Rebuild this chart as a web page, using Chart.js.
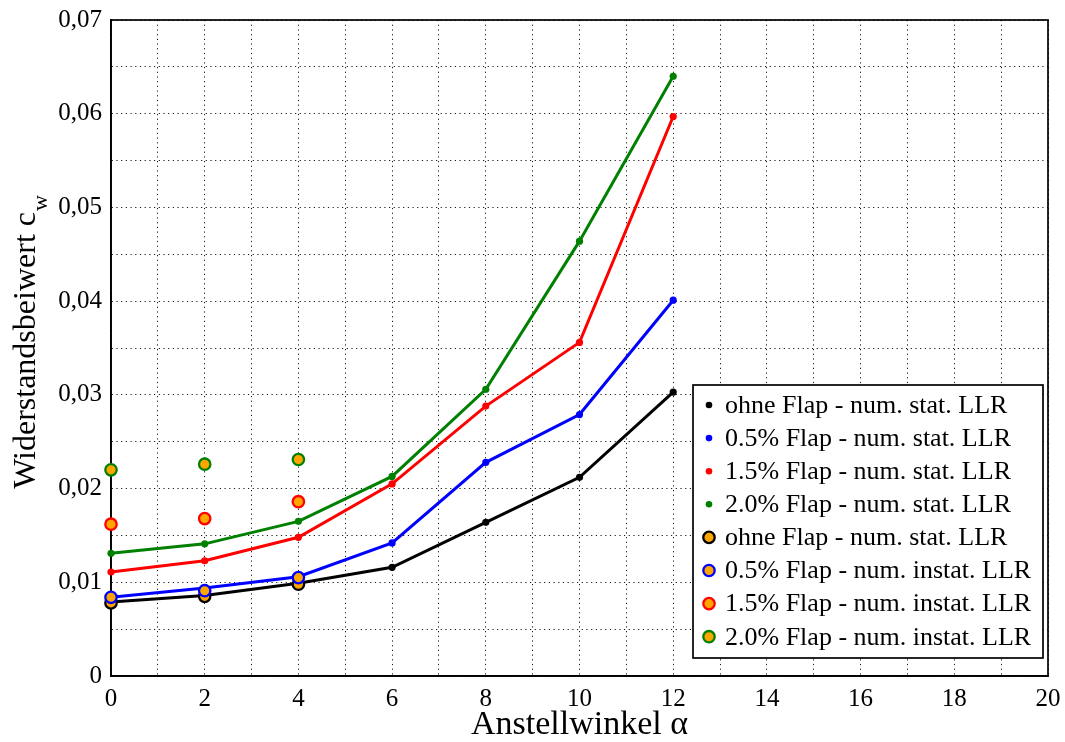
<!DOCTYPE html>
<html>
<head>
<meta charset="utf-8">
<script src="https://cdn.jsdelivr.net/npm/chart.js@4/dist/chart.umd.min.js"></script>
<style>
  html, body { margin: 0; padding: 0; background: #fff; }
  #wrap { width: 1065px; height: 742px; position: relative; }
</style>
</head>
<body>
<div id="wrap"><canvas id="c" width="1065" height="742"></canvas></div>
<script>
// ---- data ----
const alpha = [0, 2, 4, 6, 8, 10, 12];
const cwOhneStat = [0.0079, 0.0086, 0.0099, 0.0116, 0.0164, 0.0212, 0.0303];
const cw05Stat   = [0.0084, 0.0094, 0.0106, 0.0142, 0.0228, 0.0279, 0.0401];
const cw15Stat   = [0.0111, 0.0123, 0.0148, 0.0205, 0.0288, 0.0356, 0.0597];
const cw20Stat   = [0.0131, 0.0141, 0.0165, 0.0213, 0.0306, 0.0464, 0.0640];

const alphaInstat = [0, 2, 4];
const cwOhneInstat = [0.0078, 0.0085, 0.0098];
const cw05Instat   = [0.0084, 0.0091, 0.0105];
const cw15Instat   = [0.0162, 0.0168, 0.0186];
const cw20Instat   = [0.0220, 0.0226, 0.0231];

const seriesLabels = [
  'ohne Flap - num. stat. LLR',
  '0.5% Flap - num. stat. LLR',
  '1.5% Flap - num. stat. LLR',
  '2.0% Flap - num. stat. LLR',
  'ohne Flap - num. stat. LLR',
  '0.5% Flap - num. instat. LLR',
  '1.5% Flap - num. instat. LLR',
  '2.0% Flap - num. instat. LLR'
];
const yTickLabels = ['0', '0,01', '0,02', '0,03', '0,04', '0,05', '0,06', '0,07'];
const xTickLabels = ['0', '2', '4', '6', '8', '10', '12', '14', '16', '18', '20'];
const xTitle = 'Anstellwinkel \u03B1';
const yTitleMain = 'Widerstandsbeiwert c';
const yTitleSub = 'w';

// ---- styles ----
const colors = ['#000000', '#0000ff', '#ff0000', '#008000'];
const orange = '#ffa500';
const SERIF = '"Liberation Serif", "Times New Roman", serif';

function pts(xs, ys) { return xs.map((x, i) => ({ x: x, y: ys[i] })); }

const statSeries = [cwOhneStat, cw05Stat, cw15Stat, cw20Stat];
const instSeries = [cwOhneInstat, cw05Instat, cw15Instat, cw20Instat];

const datasets = [];
statSeries.forEach((s, i) => {
  datasets.push({
    label: seriesLabels[i],
    data: pts(alpha, s),
    borderColor: colors[i],
    backgroundColor: colors[i],
    borderWidth: 3,
    pointRadius: 3.6,
    pointBorderWidth: 0,
    pointBackgroundColor: colors[i],
    showLine: true,
    tension: 0,
    clip: false,
    order: 10 - i,
    _instat: false
  });
});
instSeries.forEach((s, i) => {
  datasets.push({
    label: seriesLabels[4 + i],
    data: pts(alphaInstat, s),
    borderColor: colors[i],
    backgroundColor: orange,
    showLine: false,
    pointRadius: 5.7,
    pointBorderWidth: 2.3,
    pointBackgroundColor: orange,
    pointBorderColor: colors[i],
    clip: false,
    order: 6 - i,
    _instat: true
  });
});

const frame = {
  id: 'frame',
  beforeDatasetsDraw(chart) {
    const { ctx, chartArea: a } = chart;
    ctx.save();
    ctx.strokeStyle = '#000';
    ctx.lineWidth = 1.7;
    ctx.strokeRect(a.left, a.top, a.right - a.left, a.bottom - a.top);
    ctx.restore();
  },
  afterDraw(chart) {
    const ctx = chart.ctx;
    // y-axis title with subscript
    ctx.save();
    ctx.fillStyle = '#000';
    const mainFont = '32px ' + SERIF;
    const subFont = '22px ' + SERIF;
    ctx.font = mainFont;
    const m = ctx.measureText(yTitleMain).width;
    ctx.font = subFont;
    const s = ctx.measureText(yTitleSub).width;
    const t = m + s + 1;
    ctx.translate(35, 342);
    ctx.rotate(-Math.PI / 2);
    ctx.textBaseline = 'alphabetic';
    ctx.textAlign = 'left';
    ctx.font = mainFont;
    ctx.fillText(yTitleMain, -t / 2, 0);
    ctx.font = subFont;
    ctx.fillText(yTitleSub, -t / 2 + m + 1, 12);
    ctx.restore();

    // legend box
    const bx = 693, by = 385, bw = 350, bh = 273;
    ctx.save();
    ctx.fillStyle = '#fff';
    ctx.fillRect(bx, by, bw, bh);
    ctx.strokeStyle = '#000';
    ctx.lineWidth = 1.7;
    ctx.strokeRect(bx, by, bw, bh);
    ctx.font = '26px ' + SERIF;
    ctx.textBaseline = 'middle';
    ctx.textAlign = 'left';
    chart.data.datasets.forEach((ds, i) => {
      const cy = 405 + i * 33.1;
      const cx = 709;
      ctx.beginPath();
      if (ds._instat) {
        ctx.arc(cx, cy, 5.7, 0, Math.PI * 2);
        ctx.fillStyle = orange;
        ctx.fill();
        ctx.lineWidth = 2.3;
        ctx.strokeStyle = ds.borderColor;
        ctx.stroke();
      } else {
        ctx.arc(cx, cy, 3.3, 0, Math.PI * 2);
        ctx.fillStyle = ds.borderColor;
        ctx.fill();
      }
      ctx.fillStyle = '#000';
      ctx.fillText(ds.label, 725, cy + 1);
    });
    ctx.restore();
  }
};

new Chart(document.getElementById('c'), {
  type: 'line',
  data: { datasets: datasets },
  plugins: [frame],
  options: {
    responsive: false,
    devicePixelRatio: 1,
    animation: false,
    events: [],
    layout: { padding: { top: 20, right: 17, left: 0, bottom: 0 } },
    plugins: { legend: { display: false }, tooltip: { enabled: false } },
    scales: {
      x: {
        type: 'linear',
        min: 0, max: 20,
        afterFit(scale) { scale.height = 66; scale.paddingLeft = 0; scale.paddingRight = 0; },
        ticks: {
          stepSize: 1,
          autoSkip: false,
          maxRotation: 0,
          padding: 8,
          color: '#000',
          font: { family: SERIF, size: 25 },
          callback(v) {
            const r = Math.round(v);
            return (Math.abs(v - r) < 1e-6 && r % 2 === 0) ? xTickLabels[r / 2] : '';
          }
        },
        grid: { color: 'rgba(0,0,0,0.9)', lineWidth: 1, drawTicks: false },
        border: { display: true, color: '#000', width: 1.7, dash: [1.2, 3.5] },
        title: {
          display: true,
          text: xTitle,
          color: '#000',
          font: { family: SERIF, size: 34, lineHeight: 1 },
          padding: { top: 0, bottom: 0 }
        }
      },
      y: {
        type: 'linear',
        min: 0, max: 0.07,
        afterFit(scale) { scale.width = 111; scale.paddingTop = 0; scale.paddingBottom = 0; },
        ticks: {
          stepSize: 0.005,
          autoSkip: false,
          padding: 9,
          color: '#000',
          font: { family: SERIF, size: 25 },
          callback(v) {
            const k = v / 0.01;
            const r = Math.round(k);
            return Math.abs(k - r) < 1e-6 ? yTickLabels[r] : '';
          }
        },
        grid: { color: 'rgba(0,0,0,0.9)', lineWidth: 1, drawTicks: false },
        border: { display: true, color: '#000', width: 1.7, dash: [1.2, 3.5] }
      }
    }
  }
});
</script>
</body>
</html>
